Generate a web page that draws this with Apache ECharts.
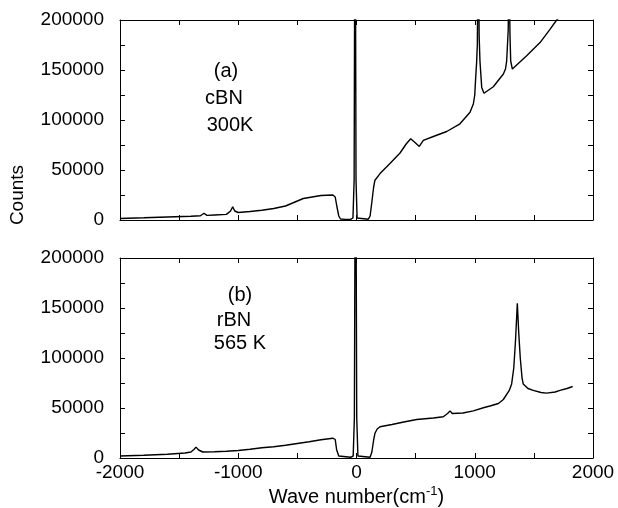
<!DOCTYPE html>
<html>
<head>
<meta charset="utf-8">
<script src="https://cdn.jsdelivr.net/npm/echarts@6/dist/echarts.min.js"></script>
<style>
  html, body { margin: 0; padding: 0; background: #fff; }
  #main { width: 618px; height: 508px; }
</style>
</head>
<body>
<div id="main"></div>
<script>
// (a) cBN 300K
const waveA = [-2000, -1800, -1600, -1400, -1320, -1290, -1265, -1200, -1100, -1065, -1047, -1030, -1000,
  -900, -800, -700, -600, -500, -450, -400, -300, -200, -180, -165, -150, -135, -100, -50, -30, -20, -12,
  -4, 5, 15, 100, 115, 130, 145, 156, 199, 283, 368, 420, 458, 490, 531, 565, 650, 763, 875, 960, 988,
  1000, 1008, 1016, 1022, 1030, 1037, 1044, 1059, 1078, 1157, 1242, 1260, 1270, 1283, 1290, 1298, 1304, 1318, 1439, 1552, 1636,
  1693, 1800];
const countsA = [1500, 2200, 3000, 3800, 4300, 6800, 4600, 5000, 5600, 9000, 13200, 9000, 7500,
  8500, 9800, 11500, 14000, 19000, 21500, 22500, 24500, 25000, 23000, 13000, 4000, 1000, 600, 600, 2000, 40000, 400000,
  40000, 2000, 600, 800, 4000, 18000, 33000, 39800, 46400, 56400, 67000, 76000, 81300, 78000, 73600, 79600, 83500, 88500, 96200, 107800, 116000,
  125000, 142600, 158000, 175800, 300000, 185000, 159000, 132600, 126700, 133300, 146000, 151000, 159200, 190000, 260000, 185000, 159000, 150900, 164200, 177400, 190700,
  200000, 212000];

// (b) rBN 565 K
const waveB = [-2000, -1800, -1600, -1450, -1400, -1375, -1357, -1335, -1300, -1200, -1100, -1000, -900,
  -800, -700, -600, -500, -400, -300, -200, -180, -168, -150, -135, -50, -28, -18, -8, 2, 12, 25, 115, 130,
  145, 156, 175, 199, 300, 400, 509, 650, 734, 770, 791, 810, 825, 900, 988, 1080, 1129, 1200, 1242, 1292,
  1312, 1330, 1345, 1360, 1372, 1385, 1400, 1410, 1450, 1495, 1560, 1608, 1680, 1721, 1780, 1828];
const countsB = [2000, 2800, 3800, 5000, 6000, 8500, 10900, 8000, 6000, 6300, 6800, 7500, 8800,
  10300, 11300, 12700, 14500, 16300, 18200, 19800, 18500, 8300, 2000, 700, 700, 2000, 40000, 400000, 40000, 2000, 700, 800, 6000,
  18000, 24700, 29000, 31300, 33500, 36000, 38500, 40000, 41200, 44500, 47100, 44500, 42900, 45000, 47100, 50500, 52000, 54500, 58500, 67600,
  74100, 90000, 118000, 154800, 125000, 100000, 80000, 74100, 69500, 67600, 65500, 64900, 66000, 67600, 69500, 71500];

const xTicks = [-2000, -1000, 0, 1000, 2000];
const yTicks = [0, 50000, 100000, 150000, 200000];

const FONT = 'Liberation Sans, Arial, Helvetica, sans-serif';
const zip = (xs, ys) => xs.map((x, i) => [x, ys[i]]);

const myChart = echarts.init(document.getElementById('main'), null, { renderer: 'canvas' });

const lineStyle = { color: '#000', width: 1 };
const tick = { show: true, inside: true, length: 5, lineStyle: { color: '#000', width: 1 } };

function xAxisOf(gridIndex, position, labels) {
  return {
    type: 'value', gridIndex, position, min: -2000, max: 2000, interval: 500,
    axisLine: { show: true, onZero: false, lineStyle },
    axisTick: tick,
    splitLine: { show: false },
    axisLabel: {
      show: labels, margin: 5, color: '#000', fontFamily: FONT, fontSize: 19,
      formatter: v => (xTicks.includes(v) ? String(v) : '')
    }
  };
}
function yAxisOf(gridIndex, position, labels) {
  return {
    type: 'value', gridIndex, position, min: 0, max: 200000, interval: 25000,
    axisLine: { show: true, onZero: false, lineStyle },
    axisTick: tick,
    splitLine: { show: false },
    axisLabel: {
      show: labels, margin: 16, color: '#000', fontFamily: FONT, fontSize: 19,
      formatter: v => (yTicks.includes(v) ? String(v) : '')
    }
  };
}

const xAxes = [xAxisOf(0, 'bottom', false), xAxisOf(0, 'top', false),
  xAxisOf(1, 'bottom', true), xAxisOf(1, 'top', false)];
xAxes[2].name = '{a|Wave number(cm}{s|-1}{a|)}';
xAxes[2].nameLocation = 'middle';
xAxes[2].nameGap = 27;
xAxes[2].nameTextStyle = {
  rich: {
    a: { fontFamily: FONT, fontSize: 20, color: '#000', verticalAlign: 'bottom', lineHeight: 22 },
    s: { fontFamily: FONT, fontSize: 13, color: '#000', verticalAlign: 'top', lineHeight: 22, padding: [0, 0, 9, 0] }
  }
};

function label(x, y, text) {
  return {
    type: 'text', x, y,
    style: { text, fill: '#000', font: '20px ' + FONT, textAlign: 'center', textVerticalAlign: 'middle' }
  };
}

const option = {
  animation: false,
  backgroundColor: '#fff',
  grid: [
    { left: 120, right: 25, top: 20, height: 200 },
    { left: 120, right: 25, top: 258, height: 203 }
  ],
  xAxis: xAxes,
  yAxis: [yAxisOf(0, 'left', true), yAxisOf(0, 'right', false),
    yAxisOf(1, 'left', true), yAxisOf(1, 'right', false)],
  series: [
    {
      type: 'line', xAxisIndex: 0, yAxisIndex: 0, data: zip(waveA, countsA),
      showSymbol: false, clip: true, lineStyle: { color: '#000', width: 1.4 }
    },
    {
      type: 'line', xAxisIndex: 2, yAxisIndex: 2, data: zip(waveB, countsB),
      showSymbol: false, clip: true, lineStyle: { color: '#000', width: 1.4 }
    }
  ],
  graphic: [
    {
      type: 'text', x: 18, y: 195, rotation: Math.PI / 2,
      style: { text: 'Counts', fill: '#000', font: '19px ' + FONT, textAlign: 'center', textVerticalAlign: 'middle' }
    },
    label(226, 71, '(a)'),
    label(224, 98, 'cBN'),
    label(230, 125, '300K'),
    label(240, 295, '(b)'),
    label(234, 320, 'rBN'),
    label(240, 343, '565 K')
  ]
};

myChart.setOption(option);
</script>
</body>
</html>
